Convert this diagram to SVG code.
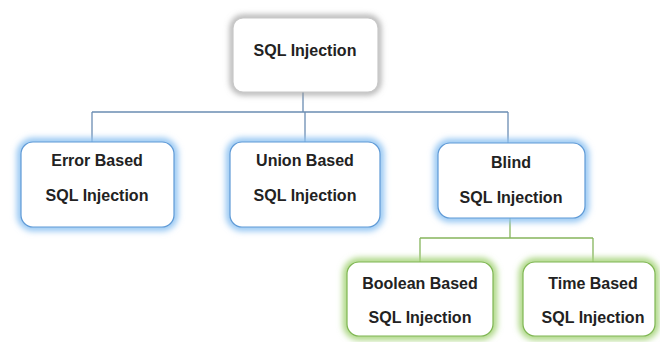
<svg xmlns="http://www.w3.org/2000/svg" width="660" height="342" viewBox="0 0 660 342">
<defs>
<filter id="glow" x="-20%" y="-30%" width="140%" height="160%"><feGaussianBlur stdDeviation="3"/></filter>
<style>
.txt{font-family:"Liberation Sans",Arial,sans-serif;font-weight:bold;font-size:16px;fill:#222;text-anchor:middle}
.box{fill:#fff;stroke-width:1.2}
.blue .halo{fill:none;stroke:#8fc3f2;stroke-width:8;filter:url(#glow)}
.blue .box{stroke:#5f9ad6}
.green .halo{fill:none;stroke:#a6d47a;stroke-width:8;filter:url(#glow)}
.green .box{stroke:#7fb653}
.gray .halo{fill:none;stroke:#9a9a9a;stroke-width:5;filter:url(#glow)}
.gray .box{stroke:#c8c8c8}
.c1{fill:none;stroke:#6b8db3;stroke-width:1.3}
.c2{fill:none;stroke:#86b55c;stroke-width:1.3}
</style>
</defs>
<rect width="660" height="342" fill="#fff"/>
<g id="connectors">
<path class="c1" d="M303 92 V112 M92 112 H508 M92 112 V142 M305 112 V142 M508 112 V143"/>
<path class="c2" d="M510 218 V238 M420 238 H593 M420 238 V262 M593 238 V262"/>
</g>
<g id="root" class="gray">
<rect class="halo" x="233" y="18" width="145" height="74" rx="10"/>
<rect class="box" x="233" y="18" width="145" height="74" rx="10"/>
<text class="txt" x="305" y="56">SQL Injection</text>
</g>
<g id="error" class="blue">
<rect class="halo" x="21" y="142" width="153" height="85" rx="12"/>
<rect class="box" x="21" y="142" width="153" height="85" rx="12"/>
<text class="txt" x="97" y="166">Error Based</text>
<text class="txt" x="97" y="201">SQL Injection</text>
</g>
<g id="union" class="blue">
<rect class="halo" x="230" y="142" width="150" height="85" rx="12"/>
<rect class="box" x="230" y="142" width="150" height="85" rx="12"/>
<text class="txt" x="305" y="166">Union Based</text>
<text class="txt" x="305" y="201">SQL Injection</text>
</g>
<g id="blind" class="blue">
<rect class="halo" x="438" y="143" width="147" height="75" rx="12"/>
<rect class="box" x="438" y="143" width="147" height="75" rx="12"/>
<text class="txt" x="511" y="168">Blind</text>
<text class="txt" x="511" y="203">SQL Injection</text>
</g>
<g id="boolean" class="green">
<rect class="halo" x="347" y="262" width="146" height="74" rx="12"/>
<rect class="box" x="347" y="262" width="146" height="74" rx="12"/>
<text class="txt" x="420" y="289">Boolean Based</text>
<text class="txt" x="420" y="323">SQL Injection</text>
</g>
<g id="time" class="green">
<rect class="halo" x="523" y="262" width="132" height="74" rx="12"/>
<rect class="box" x="523" y="262" width="132" height="74" rx="12"/>
<text class="txt" x="593" y="289">Time Based</text>
<text class="txt" x="593" y="323">SQL Injection</text>
</g>
</svg>
